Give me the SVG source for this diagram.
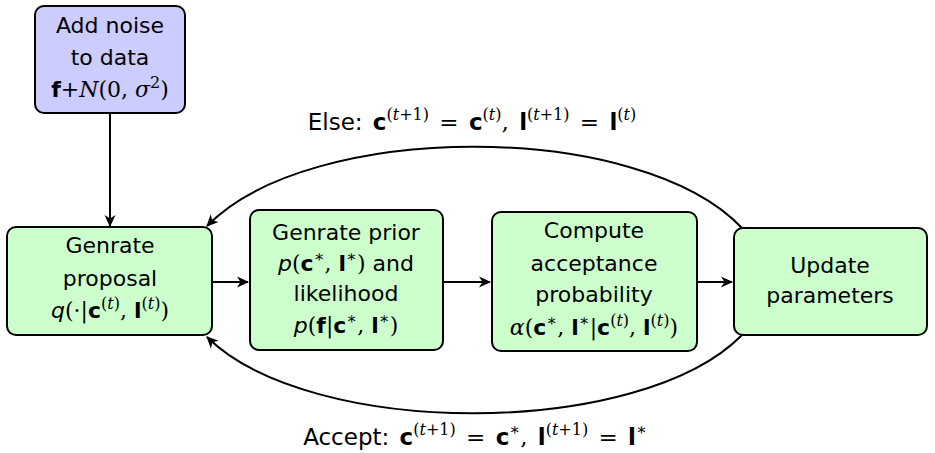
<svg xmlns="http://www.w3.org/2000/svg" width="935" height="453" viewBox="0 0 935 453">
  <style>
    .box { stroke: #000; stroke-width: 2; }
    .blue { fill: #ccccff; }
    .green { fill: #ccffcc; }
    .t { font-family: "DejaVu Sans", sans-serif; font-size: 22px; fill: #000; text-anchor: middle; }
    .m { font-family: "DejaVu Serif", "Liberation Serif", serif; }
    .i { font-style: italic; }
    .b { font-weight: bold; }
    .sup { font-size: 16px; }
    .lbl { font-size: 23px; word-spacing: 3px; }
    .edge { fill: none; stroke: #000; stroke-width: 2; }
  </style>
  <defs>
    <marker id="arrow" viewBox="0 0 12 12" refX="11" refY="6" markerWidth="12" markerHeight="12" markerUnits="userSpaceOnUse" orient="auto">
      <path d="M0,0.5 L12,6 L0,11.5 L3.5,6 Z" fill="#000"/>
    </marker>
  </defs>

  <!-- connectors -->
  <g id="connectors">
    <path class="edge" d="M110,113 L110,226" marker-end="url(#arrow)"/>
    <path class="edge" d="M212,282 L248,282" marker-end="url(#arrow)"/>
    <path class="edge" d="M443,282 L490,282" marker-end="url(#arrow)"/>
    <path class="edge" d="M697,282 L732,282" marker-end="url(#arrow)"/>
    <path class="edge" d="M742,228 C640,120 310,120 207,226" marker-end="url(#arrow)"/>
    <path class="edge" d="M742,335 C640,439 310,439 207,337" marker-end="url(#arrow)"/>
  </g>

  <!-- noise node -->
  <g id="noise">
    <rect class="box blue" x="35" y="6" width="150" height="107" rx="9"/>
    <text class="t" x="110" y="33">Add noise</text>
    <text class="t" x="110" y="65">to data</text>
    <text class="t" x="110" y="97"><tspan class="b">f</tspan><tspan class="m">+</tspan><tspan class="m i">N</tspan><tspan class="m">(0, </tspan><tspan class="m i">σ</tspan><tspan class="m sup" dy="-9">2</tspan><tspan class="m" dy="9">)</tspan></text>
  </g>

  <!-- proposal node -->
  <g id="proposal">
    <rect class="box green" x="7" y="227" width="205" height="108" rx="9"/>
    <text class="t" x="110" y="253">Genrate</text>
    <text class="t" x="110" y="286">proposal</text>
    <text class="t" x="110" y="318"><tspan class="i">q</tspan><tspan class="m">(·|</tspan><tspan class="b">c</tspan><tspan class="m sup" dy="-9">(<tspan class="i">t</tspan>)</tspan><tspan class="m" dy="9">, </tspan><tspan class="b">l</tspan><tspan class="m sup" dy="-9">(<tspan class="i">t</tspan>)</tspan><tspan class="m" dy="9">)</tspan></text>
  </g>

  <!-- prior / likelihood node -->
  <g id="prior">
    <rect class="box green" x="250" y="210" width="193" height="140" rx="9"/>
    <text class="t" x="346" y="240">Genrate prior</text>
    <text class="t" x="346" y="271"><tspan class="i">p</tspan><tspan class="m">(</tspan><tspan class="b">c</tspan><tspan class="m sup" dy="-9">∗</tspan><tspan class="m" dy="9">, </tspan><tspan class="b">l</tspan><tspan class="m sup" dy="-9">∗</tspan><tspan class="m" dy="9">)</tspan> and</text>
    <text class="t" x="346" y="301">likelihood</text>
    <text class="t" x="346" y="333"><tspan class="i">p</tspan><tspan class="m">(</tspan><tspan class="b">f</tspan><tspan class="m">|</tspan><tspan class="b">c</tspan><tspan class="m sup" dy="-9">∗</tspan><tspan class="m" dy="9">, </tspan><tspan class="b">l</tspan><tspan class="m sup" dy="-9">∗</tspan><tspan class="m" dy="9">)</tspan></text>
  </g>

  <!-- acceptance node -->
  <g id="acceptance">
    <rect class="box green" x="492" y="212" width="205" height="139" rx="9"/>
    <text class="t" x="594" y="238">Compute</text>
    <text class="t" x="594" y="271">acceptance</text>
    <text class="t" x="594" y="302">probability</text>
    <text class="t" x="594" y="335"><tspan class="m i">α</tspan><tspan class="m">(</tspan><tspan class="b">c</tspan><tspan class="m sup" dy="-9">∗</tspan><tspan class="m" dy="9">, </tspan><tspan class="b">l</tspan><tspan class="m sup" dy="-9">∗</tspan><tspan class="m" dy="9">|</tspan><tspan class="b">c</tspan><tspan class="m sup" dy="-9">(<tspan class="i">t</tspan>)</tspan><tspan class="m" dy="9">, </tspan><tspan class="b">l</tspan><tspan class="m sup" dy="-9">(<tspan class="i">t</tspan>)</tspan><tspan class="m" dy="9">)</tspan></text>
  </g>

  <!-- update node -->
  <g id="update">
    <rect class="box green" x="734" y="228" width="193" height="107" rx="9"/>
    <text class="t" x="830" y="273">Update</text>
    <text class="t" x="830" y="303">parameters</text>
  </g>

  <!-- loop labels -->
  <g id="labels">
    <text class="t lbl" x="472" y="130">Else:  <tspan class="b">c</tspan><tspan class="m sup" dy="-10">(<tspan class="i">t</tspan>+1)</tspan><tspan class="m" dy="10"> = </tspan><tspan class="b">c</tspan><tspan class="m sup" dy="-10">(<tspan class="i">t</tspan>)</tspan><tspan class="m" dy="10">, </tspan><tspan class="b">l</tspan><tspan class="m sup" dy="-10">(<tspan class="i">t</tspan>+1)</tspan><tspan class="m" dy="10"> = </tspan><tspan class="b">l</tspan><tspan class="m sup" dy="-10">(<tspan class="i">t</tspan>)</tspan></text>
    <text class="t lbl" x="475" y="445">Accept:  <tspan class="b">c</tspan><tspan class="m sup" dy="-10">(<tspan class="i">t</tspan>+1)</tspan><tspan class="m" dy="10"> = </tspan><tspan class="b">c</tspan><tspan class="m sup" dy="-10">∗</tspan><tspan class="m" dy="10">, </tspan><tspan class="b">l</tspan><tspan class="m sup" dy="-10">(<tspan class="i">t</tspan>+1)</tspan><tspan class="m" dy="10"> = </tspan><tspan class="b">l</tspan><tspan class="m sup" dy="-10">∗</tspan></text>
  </g>
</svg>
